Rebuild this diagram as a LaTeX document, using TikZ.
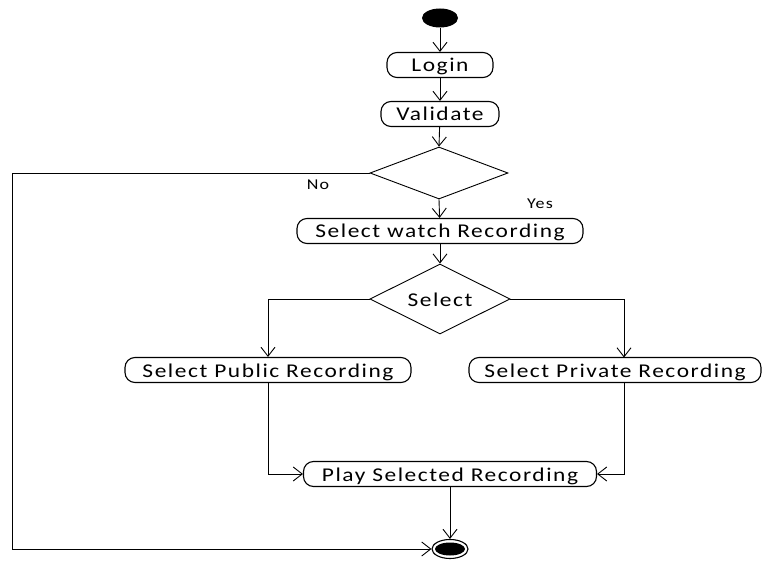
\documentclass[tikz,border=0pt]{standalone}
\usepackage{fontspec}
\setmainfont{Carlito}[LetterSpace=8,FakeStretch=1.2]
\usetikzlibrary{arrows.meta,shapes.geometric}
\begin{document}
\begin{tikzpicture}[x=1pt,y=-1pt,
  every node/.style={font=\fontsize{19.5}{22}\selectfont},
  act/.style={draw,line width=1.1pt,rounded corners=10pt,minimum height=25pt,inner xsep=6pt,inner ysep=0pt,text height=15pt,text depth=1pt},
  flow/.style={line width=0.9pt,-{Straight Barb[length=9pt,width=14pt,line width=0.9pt]}},
  plain/.style={line width=0.9pt}]
\useasboundingbox (0,0) rectangle (765,561);
\fill[white] (0,0) rectangle (765,561);
% start
\node[ellipse,fill=black,minimum width=36pt,minimum height=19pt,inner sep=0pt] (start) at (440,18) {};
\node[act,minimum width=106pt] (login) at (440,65) {Login};
\node[act,minimum width=118pt] (valid) at (440,114) {Validate};
\node[diamond,draw,line width=0.9pt,minimum width=138pt,minimum height=52pt,inner sep=0pt,aspect=2.65] (d1) at (439,173) {};
\node[act,minimum width=286pt] (watch) at (440,231) {Select watch Recording};
\node[diamond,draw,line width=0.9pt,minimum width=140pt,minimum height=70pt,inner sep=0pt,aspect=2] (d2) at (440,299) {};
\node at (440,300) {Select};
\node[act,minimum width=286pt] (pub) at (268,370) {Select Public Recording};
\node[act,minimum width=292pt] (priv) at (615,370) {Select Private Recording};
\node[act,minimum width=293pt] (play) at (450,474) {Play Selected Recording};
\node[ellipse,draw,line width=1.1pt,minimum width=36pt,minimum height=19pt,inner sep=0pt] (end) at (450,549) {};
\node[ellipse,fill=black,minimum width=30pt,minimum height=13pt,inner sep=0pt] at (end) {};
\node[font=\fontsize{15}{18}\selectfont] at (318,185) {No};
\node[font=\fontsize{15}{18}\selectfont] at (540,204) {Yes};
% connectors
\draw[flow] (start) -- (login);
\draw[flow] (login) -- (valid);
\draw[flow] (valid) -- (d1.north);
\draw[flow] (d1.south) -- (watch);
\draw[flow] (watch) -- (d2.north);
\coordinate (no1) at (12,173);
\coordinate (no2) at (12,549);
\draw[flow] (d1.west) -- (no1) -- (no2) -- (end.west);
\draw[flow] (d2.west) -| (pub.north);
\draw[flow] (d2.east) -| (624,357.5);
\coordinate (pl) at (268,474);
\coordinate (pr) at (624,474);
\draw[flow] (pub.south) -- (pl) -- (play.west);
\draw[flow] (624,382.5) -- (pr) -- (play.east);
\draw[flow] (play) -- (end);
\end{tikzpicture}
\end{document}
